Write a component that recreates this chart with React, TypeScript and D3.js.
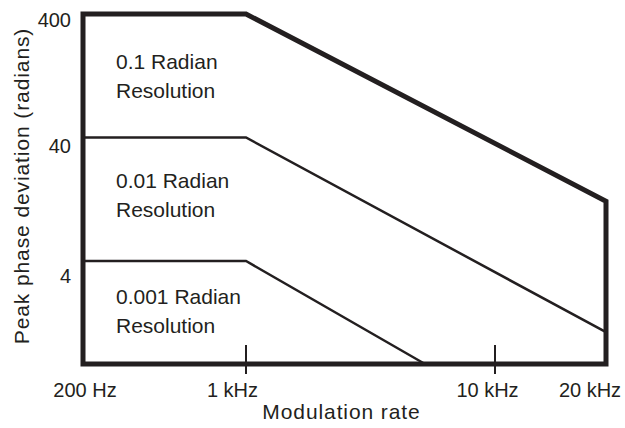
import React from "react";
import * as d3 from "d3";

const freqTicks = [200, 1000, 10000, 20000];
const freqTickLabels = ["200 Hz", "1 kHz", "10 kHz", "20 kHz"];
const devTicks = [400, 40, 4];
const devTickLabels = ["400", "40", "4"];
const devFloor = 0.586;

// boundary (0.1 radian region upper limit)
const boundaryF = [200, 200, 1000, 20000, 20000];
const boundaryV = [devFloor, 400, 400, 12.2, devFloor];
// 0.01 radian limit
const midF = [200, 1000, 20000];
const midV = [40, 40, 1.06];
// 0.001 radian limit
const lowF = [200, 1000, 7470];
const lowV = [4, 4, devFloor];

const regionLabels = [
  ["0.1 Radian", "Resolution"],
  ["0.01 Radian", "Resolution"],
  ["0.001 Radian", "Resolution"],
];

const W = 625;
const H = 428;
const INK = "#231f20";
const FONT = "'Liberation Sans', Arial, sans-serif";

export default function App() {
  const x = d3.scaleLinear().domain(freqTicks).range([83, 246, 495, 606]);
  const y = d3.scaleLog().domain([devFloor, 400]).range([364, 14]);

  const line = d3
    .line<[number, number]>()
    .x((d) => x(d[0]))
    .y((d) => y(d[1]));

  const zip = (f: number[], v: number[]) => f.map((ff, i) => [ff, v[i]] as [number, number]);

  const boundaryPath = line(zip(boundaryF, boundaryV)) + "Z";
  const midPath = line(zip(midF, midV));
  const lowPath = line(zip(lowF, lowV));

  const tickLabelDx = [2, -13.5, -7.5, -16];
  const devLabelDy = [13, 16, 22];
  const regionBase = [69, 188, 304];

  return (
    <svg width={W} height={H} style={{ display: "block", position: "absolute", left: 0, top: 0 }}>
      <rect width={W} height={H} fill="#fff" />
      <path d={midPath || ""} fill="none" stroke={INK} strokeWidth={2.5} />
      <path d={lowPath || ""} fill="none" stroke={INK} strokeWidth={2.5} />
      <path d={boundaryPath} fill="none" stroke={INK} strokeWidth={5} strokeLinejoin="miter" />
      {[1000, 10000].map((f) => (
        <line key={f} x1={x(f)} x2={x(f)} y1={345} y2={374} stroke={INK} strokeWidth={2} />
      ))}
      {freqTicks.map((f, i) => (
        <text
          key={f}
          x={x(f) + tickLabelDx[i]}
          y={397}
          textAnchor="middle"
          fontFamily={FONT}
          fontSize={20}
          fill={INK}
        >
          {freqTickLabels[i]}
        </text>
      ))}
      {devTicks.map((v, i) => (
        <text
          key={v}
          x={71}
          y={y(v) + devLabelDy[i]}
          textAnchor="end"
          fontFamily={FONT}
          fontSize={20}
          fill={INK}
        >
          {devTickLabels[i]}
        </text>
      ))}
      {regionLabels.map((lines, i) => (
        <text key={i} fontFamily={FONT} fontSize={21} fill={INK}>
          {lines.map((t, j) => (
            <tspan key={j} x={116} y={regionBase[i] + j * 29}>
              {t}
            </tspan>
          ))}
        </text>
      ))}
      <text
        x={341.5}
        y={419}
        textAnchor="middle"
        fontFamily={FONT}
        fontSize={21}
        letterSpacing={0.9}
        fill={INK}
      >
        Modulation rate
      </text>
      <text
        transform="translate(28.5,186) rotate(-90)"
        textAnchor="middle"
        fontFamily={FONT}
        fontSize={21}
        letterSpacing={0.9}
        fill={INK}
      >
        Peak phase deviation (radians)
      </text>
    </svg>
  );
}
